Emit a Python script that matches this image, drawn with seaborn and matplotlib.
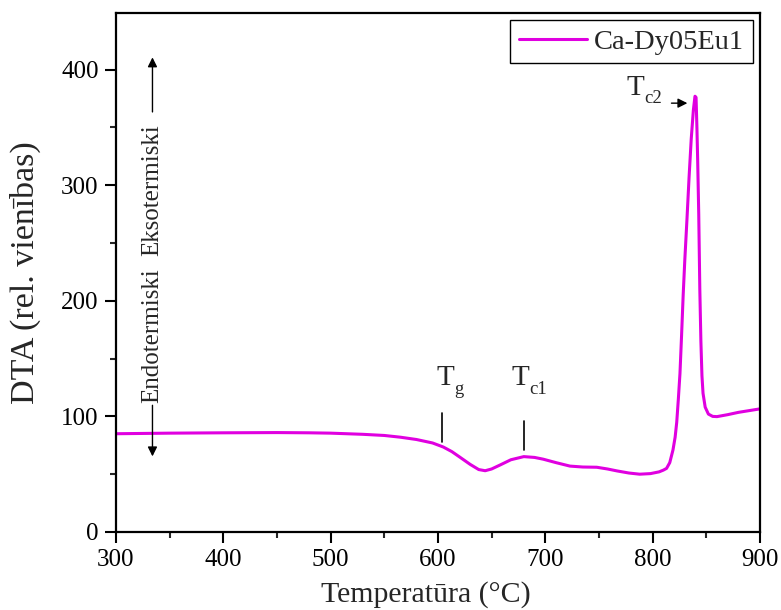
import numpy as np
import pandas as pd
import matplotlib
matplotlib.use("Agg")
import matplotlib.pyplot as plt
import seaborn as sns
from matplotlib.ticker import MultipleLocator

# DTA curve of the Ca-Dy05Eu1 glass sample
temperature = [300, 350, 400, 450, 480, 500, 530, 550, 565, 580, 595, 605, 613,
               620, 630, 638, 644, 650, 658, 668, 680, 690, 698, 710, 723, 735,
               748, 758, 767, 778, 788, 798, 806, 810, 813, 816, 819, 821, 822.5,
               824, 825.5, 827, 828.5, 830, 832, 834, 836, 838, 839.5, 840.5,
               841.3, 842, 843, 844, 845, 846, 847, 849, 852, 856, 860, 870, 880,
               890, 900]
dta = [85, 85.5, 85.8, 86, 85.8, 85.5, 84.5, 83.5, 82, 80, 77, 73.5, 69.5,
       65, 58.5, 54, 53, 54.5, 58, 62.5, 65.2, 64.5, 63, 60, 57, 56.2,
       56, 54.5, 52.8, 51, 50, 50.5, 52, 53.5, 55, 60, 71, 82, 95,
       115, 137, 170, 205, 235, 270, 307, 340, 365, 377, 376,
       350, 322, 275, 210, 165, 135, 120, 108, 102, 100, 99.8, 101.5, 103.5,
       105, 106.5]
series_name = "Ca-Dy05Eu1"

x_ticks = [300, 400, 500, 600, 700, 800, 900]
y_ticks = [0, 100, 200, 300, 400]

df = pd.DataFrame({"T": temperature, "DTA": dta})

sns.set_theme(style="ticks")
plt.rcParams["font.family"] = ["Liberation Serif", "DejaVu Serif"]

fig = plt.figure(figsize=(7.81, 6.10), dpi=100)
ax = fig.add_axes([0.1485, 0.1279, 0.8245, 0.8508])

sns.lineplot(data=df, x="T", y="DTA", ax=ax, color="#e000e0", lw=2.2,
             label=series_name, estimator=None, sort=False)

ax.set_xlim(300, 900)
ax.set_ylim(0, 449)
ax.set_xticks(x_ticks)
ax.set_yticks(y_ticks)
ax.xaxis.set_minor_locator(MultipleLocator(50))
ax.yaxis.set_minor_locator(MultipleLocator(50))
ax.tick_params(which="major", direction="out", length=8, width=1.5, labelsize=18,
               colors="black", pad=4.5)
ax.tick_params(which="minor", direction="out", length=4, width=1.5)
for sp in ax.spines.values():
    sp.set_linewidth(1.6)
    sp.set_color("black")

ax.set_xlabel("Temperatūra (°C)", fontsize=21.5)
ax.xaxis.set_label_coords(0.481, -0.095)
ax.set_ylabel("DTA (rel. vienības)", fontsize=24.5)
ax.yaxis.set_label_coords(-0.117, 0.5)

leg = ax.legend(loc="upper right", fontsize=20.5, frameon=True, fancybox=False,
                edgecolor="black", framealpha=1, handlelength=2.4,
                borderaxespad=0.25, borderpad=0.3, handletextpad=0.25)
leg.get_frame().set_linewidth(1.0)
for h in leg.get_lines():
    h.set_linewidth(2.2)


def temp_label(x, y, sub):
    """Draw a 'T' with a small lowered subscript at data point (x, y)."""
    ax.text(x, y, "T", fontsize=21, ha="left", va="baseline")
    ax.annotate(sub, xy=(x, y), xytext=(12.5, -6), textcoords="offset points",
                fontsize=13.5, ha="left", va="baseline")


# characteristic temperature markers
ax.plot([603.5, 603.5], [78, 103], color="black", lw=1.2)
ax.plot([680, 680], [71, 96], color="black", lw=1.2)
temp_label(599, 127, "g")
temp_label(669, 127, "c1")
temp_label(776, 378, "c2")
ax.annotate("", xy=(835, 371), xytext=(815, 371),
            arrowprops=dict(arrowstyle="-|>", color="black", lw=1.0,
                            mutation_scale=14))

# heat-flow direction indicators
ax.text(334, 296, "Eksotermiski", rotation=90, fontsize=18, ha="center", va="center")
ax.text(334, 170, "Endotermiski", rotation=90, fontsize=18, ha="center", va="center")
ax.annotate("", xy=(334, 413), xytext=(334, 361),
            arrowprops=dict(arrowstyle="-|>", color="black", lw=1.0,
                            mutation_scale=14))
ax.annotate("", xy=(334, 63), xytext=(334, 112),
            arrowprops=dict(arrowstyle="-|>", color="black", lw=1.0,
                            mutation_scale=14))

fig.savefig("out.png", dpi=100)
